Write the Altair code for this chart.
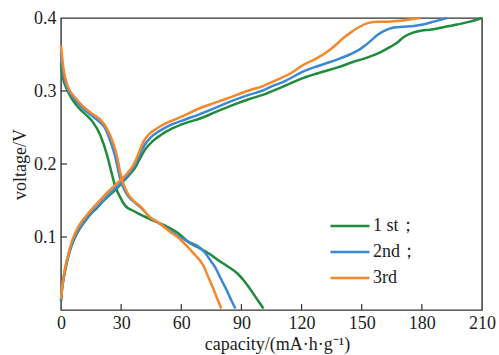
import altair as alt
import pandas as pd

cycles = ["1 st；", "2nd；", "3rd"]
colors = ["#1f8b3b", "#3b88d6", "#f5882c"]

# discharge branches (capacity, voltage)
d1_cap = [0, 1, 3, 6, 9.5, 13, 16, 19.5, 23, 25.4, 27, 29.4, 32, 36, 44, 53, 59, 64, 69, 74, 78, 83, 88, 91, 94, 97, 101]
d1_v = [0.338, 0.318, 0.302, 0.287, 0.275, 0.266, 0.257, 0.240, 0.212, 0.186, 0.170, 0.155, 0.143, 0.136, 0.125, 0.114, 0.104, 0.092, 0.085, 0.077, 0.069, 0.060, 0.050, 0.041, 0.030, 0.018, 0.002]

d2_cap = [0, 1, 3, 7, 11, 15, 19.5, 22, 24, 26, 27.5, 28.8, 30, 32.5, 36, 40, 44, 50, 58, 64, 69, 72, 74, 77, 79, 81, 83, 85, 87]
d2_v = [0.352, 0.328, 0.305, 0.288, 0.276, 0.267, 0.257, 0.249, 0.236, 0.220, 0.205, 0.188, 0.175, 0.160, 0.149, 0.140, 0.128, 0.117, 0.102, 0.093, 0.086, 0.078, 0.070, 0.058, 0.047, 0.036, 0.025, 0.013, 0.002]

d3_cap = [0, 1, 3, 7, 11, 15, 19.5, 22, 24.4, 26.5, 28, 29.4, 30.4, 32.8, 36, 40, 44, 49, 54, 59, 64, 67, 71, 73.5, 76, 78, 80]
d3_v = [0.362, 0.335, 0.309, 0.291, 0.279, 0.270, 0.261, 0.253, 0.240, 0.225, 0.210, 0.190, 0.179, 0.162, 0.150, 0.141, 0.128, 0.119, 0.108, 0.098, 0.084, 0.075, 0.061, 0.045, 0.029, 0.015, 0.002]

# charge branches (capacity, voltage)
c1_cap = [0, 0.5, 1, 2, 3.5, 5.5, 8, 11, 14, 18, 21, 24.5, 28, 31, 34, 37, 39.5, 42, 46, 50, 55, 62, 69, 77, 84, 94, 101, 109, 115, 121, 129, 137.6, 146, 154, 160, 164, 167.6, 171, 175.6, 180, 184, 190, 197.5, 204, 210]
c1_v = [0.012, 0.028, 0.038, 0.053, 0.072, 0.090, 0.105, 0.118, 0.129, 0.140, 0.149, 0.158, 0.167, 0.176, 0.185, 0.195, 0.208, 0.220, 0.232, 0.240, 0.248, 0.256, 0.262, 0.271, 0.279, 0.289, 0.295, 0.304, 0.311, 0.318, 0.325, 0.332, 0.340, 0.347, 0.354, 0.360, 0.366, 0.374, 0.380, 0.383, 0.384, 0.387, 0.391, 0.395, 0.400]

c2_cap = [0, 0.5, 1, 2, 3.5, 5.5, 8, 11, 14, 18, 21, 24.5, 28, 31, 34, 36.5, 39, 41.5, 45, 49, 55, 62, 69, 77, 84, 94, 101, 104, 112, 121, 129, 137.6, 144, 149, 152, 155, 158, 162.6, 166, 170.6, 176, 180.5, 186, 192.5]
c2_v = [0.013, 0.029, 0.039, 0.055, 0.073, 0.091, 0.106, 0.119, 0.130, 0.141, 0.150, 0.160, 0.169, 0.178, 0.187, 0.197, 0.211, 0.225, 0.237, 0.245, 0.254, 0.261, 0.268, 0.277, 0.285, 0.295, 0.301, 0.305, 0.314, 0.327, 0.335, 0.343, 0.350, 0.357, 0.363, 0.370, 0.377, 0.384, 0.387, 0.388, 0.389, 0.391, 0.395, 0.400]

c3_cap = [0, 0.5, 1, 2, 3.5, 5.3, 7.5, 10.3, 13.5, 17, 20, 23.5, 27, 30, 33, 36, 38.5, 41, 44, 48, 55, 61, 68, 78, 84, 94, 101, 109, 115, 121, 127, 133, 137, 141, 145, 149, 153, 157.6, 163, 168, 174, 179]
c3_v = [0.015, 0.030, 0.040, 0.057, 0.075, 0.093, 0.108, 0.121, 0.132, 0.143, 0.152, 0.162, 0.171, 0.179, 0.187, 0.198, 0.213, 0.230, 0.241, 0.249, 0.259, 0.266, 0.275, 0.285, 0.291, 0.301, 0.307, 0.317, 0.325, 0.336, 0.344, 0.354, 0.363, 0.373, 0.381, 0.388, 0.393, 0.395, 0.395, 0.396, 0.398, 0.400]

x_ticks = [0, 30, 60, 90, 120, 150, 180, 210]
y_ticks = [0.1, 0.2, 0.3, 0.4]

rows = []
branches = [
    (cycles[0], "discharge", d1_cap, d1_v), (cycles[0], "charge", c1_cap, c1_v),
    (cycles[1], "discharge", d2_cap, d2_v), (cycles[1], "charge", c2_cap, c2_v),
    (cycles[2], "discharge", d3_cap, d3_v), (cycles[2], "charge", c3_cap, c3_v),
]
for cyc, br, caps, vs in branches:
    for i, (c, v) in enumerate(zip(caps, vs)):
        rows.append({"cycle": cyc, "branch": br, "idx": i, "cap": c, "v": v})
df = pd.DataFrame(rows)

W, H = 421, 292
FONT = "Liberation Serif"
FS = 18

xscale = alt.Scale(domain=[0, 210], nice=False, zero=False)
yscale = alt.Scale(domain=[0, 0.4], nice=False, zero=False)

lines = alt.Chart(df).mark_line(strokeWidth=2.5, interpolate="monotone").encode(
    x=alt.X("cap:Q", scale=xscale,
            axis=alt.Axis(title="capacity/(mA·h·g⁻¹)", values=x_ticks, format="d",
                          ticks=False, domain=False, grid=False, labelPadding=4,
                          labelFont=FONT, labelFontSize=FS,
                          labelFlush=False, labelOverlap=False, titlePadding=3,
                          titleX=216)),
    y=alt.Y("v:Q", scale=yscale,
            axis=alt.Axis(title="voltage/V", values=y_ticks, format=".1f",
                          ticks=False, domain=False, grid=False, labelPadding=5,
                          labelFont=FONT, labelFontSize=FS,
                          labelFlush=False, labelOverlap=False, titlePadding=4)),
    color=alt.Color("cycle:N", scale=alt.Scale(domain=cycles, range=colors),
                    legend=alt.Legend(title=None, orient="none", legendX=278, legendY=197,
                                      symbolType="M-2,0H2", symbolSize=380,
                                      symbolStrokeWidth=2.5, labelFont=FONT,
                                      labelFontSize=FS, labelColor="#222",
                                      labelOffset=12, rowPadding=6, padding=0)),
    detail="branch:N",
    order="idx:Q",
)

xt = alt.Chart(pd.DataFrame({"t": x_ticks[1:-1]})).mark_rule(color="#333", strokeWidth=1.2).encode(
    x=alt.X("t:Q", scale=xscale), y=alt.value(H), y2=alt.value(H - 6))
yt = alt.Chart(pd.DataFrame({"t": y_ticks[:-1]})).mark_rule(color="#333", strokeWidth=1.2).encode(
    y=alt.Y("t:Q", scale=yscale), x=alt.value(0), x2=alt.value(6))

chart = alt.layer(lines, xt, yt).properties(
    width=W, height=H,
    autosize=alt.AutoSizeParams(type="none"),
    padding={"left": 61, "top": 18, "right": 17, "bottom": 45},
    background="white",
).configure_view(stroke="#333", strokeWidth=1.4).configure_axis(
    labelFont=FONT, labelFontSize=FS, labelColor="#222",
    titleFont=FONT, titleFontSize=FS, titleFontWeight="normal", titleColor="#222",
)

chart.save("out.html", embed_options={"renderer": "svg", "actions": False})
